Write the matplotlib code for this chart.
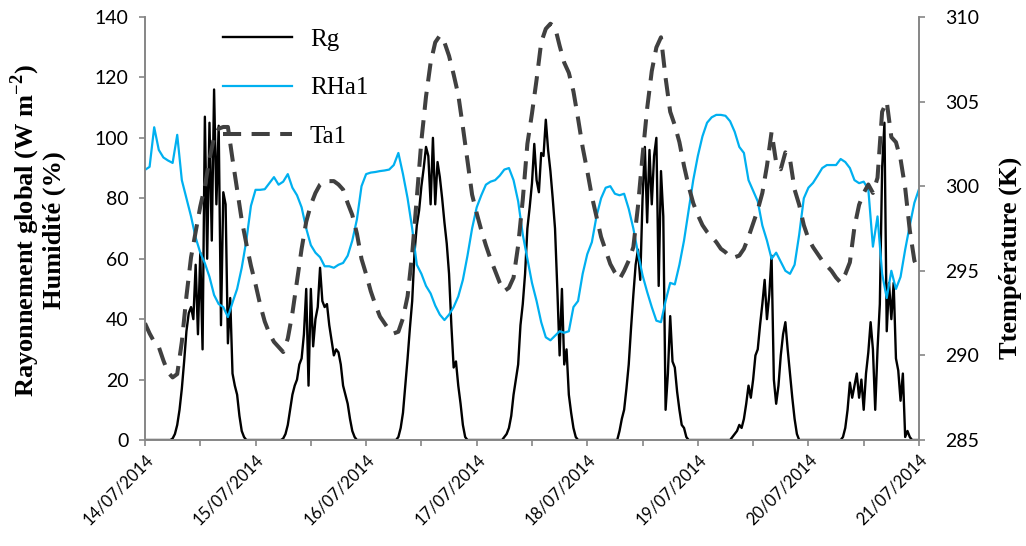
import numpy as np
import pandas as pd
import matplotlib
matplotlib.use('Agg')
import matplotlib.pyplot as plt
import matplotlib.dates as mdates

# ---- data ----
# global radiation Rg (W m-2), every 30 min, one row per day
rg_d1 = [0, 0, 0, 0, 0, 0, 0, 0, 0, 0, 0, 0,
         0.5, 2, 5, 10, 17, 26, 36, 42, 44, 40, 58, 35,
         62, 30, 107, 60, 105, 66, 116, 78, 104, 38, 82, 78,
         32, 47, 22, 18, 15, 8, 3, 1, 0, 0, 0, 0]
rg_d2 = [0, 0, 0, 0, 0, 0, 0, 0, 0, 0, 0, 0,
         0.5, 2, 5, 10, 15, 18, 20, 25, 27, 35, 50, 18,
         50, 31, 40, 44, 57, 46, 44, 45, 38, 33, 28, 30,
         29, 25, 18, 15, 12, 7, 3, 1, 0, 0, 0, 0]
rg_d3 = [0, 0, 0, 0, 0, 0, 0, 0, 0, 0, 0, 0,
         0, 0, 1, 4, 9, 18, 27, 37, 46, 62, 71, 76,
         84, 90, 97, 94, 78, 100, 78, 92, 87, 80, 72, 65,
         55, 38, 24, 26, 18, 12, 5, 1, 0, 0, 0, 0]
rg_d4 = [0, 0, 0, 0, 0, 0, 0, 0, 0, 0, 0, 0,
         1, 2, 4, 8, 15, 20, 25, 38, 45, 55, 70, 77,
         85, 98, 86, 82, 95, 94, 106, 96, 89, 80, 70, 50,
         28, 50, 25, 30, 15, 9, 4, 1, 0, 0, 0, 0]
rg_d5 = [0, 0, 0, 0, 0, 0, 0, 0, 0, 0, 0, 0,
         0, 0, 3, 7, 10, 17, 25, 37, 48, 58, 63, 53,
         80, 97, 72, 96, 78, 94, 100, 51, 89, 74, 10, 22,
         41, 26, 24, 16, 10, 5, 4, 1, 0, 0, 0, 0]
rg_d6 = [0, 0, 0, 0, 0, 0, 0, 0, 0, 0, 0, 0,
         0, 0, 0, 1, 2, 3, 5, 4, 7, 12, 18, 14,
         20, 28, 30, 38, 45, 53, 40, 48, 61, 20, 12, 18,
         28, 35, 39, 30, 22, 14, 7, 2, 0, 0, 0, 0]
rg_d7 = [0, 0, 0, 0, 0, 0, 0, 0, 0, 0, 0, 0,
         0, 0, 0, 1, 4, 10, 19, 14, 18, 22, 14, 20,
         10, 22, 29, 39, 30, 10, 30, 45, 90, 105, 36, 52,
         40, 52, 27, 23, 13, 22, 1, 3, 1, 0, 0, 0, 0]

# relative humidity RHa1 (%), hourly
rh = [89.4, 90.4, 103.5, 96.0, 93.5, 92.5, 91.7, 101.0, 86.0, 80.0, 74.0, 67.0,
      62.0, 58.5, 54.0, 48.0, 45.0, 44.0, 40.7, 45.5, 50.0, 57.0, 66.0, 77.5,
      82.8, 82.8, 83.0, 85.0, 87.0, 84.5, 85.5, 88.0, 83.5, 81.0, 77.0, 70.0,
      64.5, 62.0, 60.5, 57.5, 57.5, 57.0, 58.0, 58.6, 61.0, 66.0, 73.0, 84.0,
      88.0, 88.5, 88.7, 89.0, 89.2, 89.5, 91.0, 95.0, 88.0, 80.0, 70.0, 58.0,
      55.0, 51.0, 48.5, 44.5, 41.5, 39.7, 41.5, 44.0, 47.5, 53.0, 61.0, 70.0,
      77.0, 81.0, 84.5, 85.5, 86.0, 87.5, 89.5, 90.0, 86.0, 79.0, 68.0, 60.0,
      52.0, 46.0, 39.0, 34.0, 33.0, 34.5, 36.0, 35.5, 36.0, 44.0, 46.0, 55.0,
      61.5, 65.5, 74.0, 80.0, 83.5, 84.0, 81.5, 81.0, 81.5, 76.5, 70.0, 62.0,
      54.5, 49.0, 44.0, 39.5, 39.0, 46.0, 52.0, 51.5, 58.0, 66.0, 76.0, 86.0,
      94.0, 100.5, 105.0, 106.8, 107.6, 107.6, 107.3, 105.5, 102.0, 97.0, 95.0, 86.0,
      82.5, 79.0, 71.0, 66.0, 60.0, 62.0, 59.0, 56.0, 55.0, 58.0, 68.0, 80.0,
      83.5, 85.1, 87.5, 90.0, 91.0, 91.0, 91.0, 93.0, 92.0, 90.0, 86.0, 85.0,
      85.5, 83.0, 64.0, 74.0, 55.0, 47.0, 56.0, 50.0, 54.0, 63.0, 71.0, 78.5,
      83.0]

# air temperature Ta1 (K), hourly
ta = [291.9, 291.3, 290.8, 290.5, 289.7, 289.0, 288.7, 288.9, 290.8, 293.5, 295.8, 297.3,
      298.8, 300.0, 301.6, 302.9, 303.4, 303.5, 303.5, 301.6, 299.8, 298.0, 296.6, 295.3,
      294.2, 293.0, 292.0, 291.3, 290.8, 290.5, 290.2, 291.0, 292.5, 294.4, 296.3, 297.9,
      298.9, 299.6, 300.1, 300.3, 300.3, 300.3, 300.1, 299.8, 299.0, 298.3, 297.2, 295.7,
      294.8, 293.8, 293.0, 292.3, 291.9, 291.5, 291.3, 291.4, 292.2, 293.5, 296.0, 299.3,
      302.7, 305.3, 307.3, 308.5, 308.9, 308.5, 307.7, 306.6, 305.4, 303.5, 301.5, 299.5,
      298.4, 297.4, 296.5, 295.7, 295.0, 294.3, 293.8, 294.0, 294.6, 296.5, 299.2, 302.5,
      304.3, 306.3, 308.5, 309.3, 309.6, 309.4, 308.3, 307.3, 306.7, 305.6, 304.0, 302.3,
      300.9, 299.4, 298.2, 297.0, 296.2, 295.4, 294.9, 294.5, 295.0, 295.6, 296.4, 298.8,
      301.8, 304.6, 306.8, 308.2, 308.8, 306.4, 304.4, 303.6, 302.6, 301.2, 300.0, 299.0,
      298.3, 297.7, 297.3, 297.0, 296.7, 296.3, 296.1, 295.8, 295.8, 295.9, 296.3, 297.0,
      297.8, 298.6, 299.6, 301.2, 303.2, 301.4, 301.0, 302.0, 301.6, 299.8, 298.9, 297.7,
      296.9, 296.4, 296.0, 295.6, 295.3, 295.0, 294.6, 294.3, 294.8, 295.5, 297.6, 298.9,
      299.6, 300.1, 299.6, 300.5, 304.4, 305.0, 302.9, 302.6, 301.6, 299.9, 297.4, 295.6,
      295.0]

rg = rg_d1 + rg_d2 + rg_d3 + rg_d4 + rg_d5 + rg_d6 + rg_d7
t_rg = pd.date_range('2014-07-14', periods=len(rg), freq='30min')
t_h = pd.date_range('2014-07-14', periods=len(rh), freq='h')

serif = 'Liberation Serif'
tickfont = 'Lato'
spine_col = '#868686'
plt.rcParams['mathtext.fontset'] = 'custom'
plt.rcParams['mathtext.rm'] = 'Liberation Serif:bold'
plt.rcParams['mathtext.bf'] = 'Liberation Serif:bold'

fig = plt.figure(figsize=(10.26, 5.46), dpi=100)
ax = fig.add_axes([0.1413, 0.1941, 0.7544, 0.7748])
ax2 = ax.twinx()

l_rg, = ax.plot(t_rg, rg, color='black', lw=1.7, label='Rg')
l_rh, = ax.plot(t_h, rh, color='#00B0F0', lw=1.6, label='RHa1')
l_ta, = ax2.plot(t_h, ta, color='#404040', lw=2.9, dashes=(4.5, 2.6), label='Ta1')

ax.set_xlim(pd.Timestamp('2014-07-14'), pd.Timestamp('2014-07-21'))
ax.set_ylim(0, 140)
ax.set_yticks(np.arange(0, 141, 20))
ax2.set_ylim(285, 310)
ax2.set_yticks(np.arange(285, 311, 5))

ax.xaxis.set_major_locator(mdates.DayLocator())
ax.xaxis.set_minor_locator(mdates.HourLocator(byhour=[12]))
ax.xaxis.set_major_formatter(mdates.DateFormatter('%d/%m/%Y'))

for a in (ax, ax2):
    a.spines['top'].set_visible(False)
    for s in ('left', 'right', 'bottom'):
        a.spines[s].set_color(spine_col)
        a.spines[s].set_linewidth(1.2)
    a.tick_params(which='both', direction='out', length=4, width=1.2, color=spine_col)

ax.tick_params(axis='x', which='major', pad=4)
ax.tick_params(axis='y', pad=8)
ax2.tick_params(axis='y', pad=15)
for lab in ax.get_xticklabels():
    lab.set_rotation(45)
    lab.set_ha('right')
    lab.set_rotation_mode('anchor')
    lab.set_fontsize(12)
    lab.set_family(tickfont)
for lab in ax.get_yticklabels() + ax2.get_yticklabels():
    lab.set_fontsize(14)
    lab.set_family(tickfont)

ax.set_ylabel('Rayonnement global (W m$^{-2}$)\nHumidité (%)',
              family=serif, fontweight='bold', fontsize=19, linespacing=1.05)
ax.yaxis.set_label_coords(-0.102, 0.496)
ax2.set_ylabel('Ttempérature (K)', family=serif, fontweight='bold', fontsize=19)
ax2.yaxis.set_label_coords(1.103, 0.43)

ax.legend([l_rg, l_rh, l_ta], ['Rg', 'RHa1', 'Ta1'], loc='upper left',
          bbox_to_anchor=(0.072, 1.027), frameon=False, handlelength=2.75,
          handletextpad=0.72, labelspacing=1.05, prop={'family': serif, 'size': 18})

fig.savefig('out.png', dpi=100)
